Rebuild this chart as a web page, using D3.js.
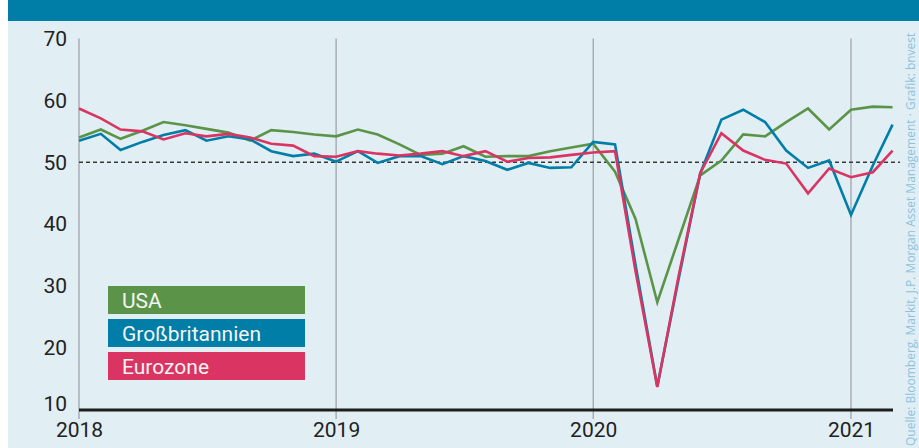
<!DOCTYPE html>
<html>
<head>
<meta charset="utf-8">
<script src="https://cdnjs.cloudflare.com/ajax/libs/d3/7.8.5/d3.min.js"></script>
<style>
  body { margin: 0; background: #fff; }
  svg { display: block; }
</style>
</head>
<body>
<script>
// Einkaufsmanagerindizes (Composite), monatlich Jan 2018 - Mär 2021
var months = [];
for (var i = 0; i < 39; i++) months.push(new Date(2018, i, 1));

var usa = [
  54.0, 55.3, 53.8, 55.1, 56.5, 56.0, 55.4, 54.8, 53.5, 55.2, 54.9, 54.5,
  54.2, 55.3, 54.5, 52.9, 51.2, 51.4, 52.6, 50.9, 51.0, 51.0, 51.8, 52.4,
  53.0, 48.5, 40.9, 27.4, 37.5, 47.9, 50.3, 54.5, 54.2, 56.5, 58.7, 55.3,
  58.5, 59.0, 58.9
];
var uk = [
  53.5, 54.6, 52.0, 53.3, 54.4, 55.2, 53.5, 54.2, 53.7, 51.8, 51.0, 51.4,
  50.1, 51.8, 49.9, 51.0, 51.0, 49.7, 51.0, 50.2, 48.8, 49.9, 49.1, 49.2,
  53.3, 52.9, 33.5, 13.8, 31.0, 48.2, 56.9, 58.5, 56.5, 51.9, 49.1, 50.3,
  41.5, 49.5, 56.1
];
var eurozone = [
  58.7, 57.1, 55.3, 55.0, 53.7, 54.7, 54.2, 54.6, 54.0, 53.0, 52.7, 51.0,
  50.9, 51.8, 51.4, 51.1, 51.4, 51.8, 51.0, 51.8, 50.1, 50.7, 50.8, 51.2,
  51.6, 51.8, 32.5, 13.7, 31.5, 48.3, 54.7, 51.9, 50.4, 49.8, 45.0, 49.0,
  47.6, 48.4, 51.9
];

var seriesNames = ['USA', 'Großbritannien', 'Eurozone'];
var seriesColors = ['#5b9449', '#007ea7', '#d93462'];
var yTicks = [10, 20, 30, 40, 50, 60, 70];
var yearTicks = [new Date(2018, 0, 1), new Date(2019, 0, 1), new Date(2020, 0, 1), new Date(2021, 0, 1)];
var source = 'Quelle: Bloomberg, Markit, J.P. Morgan Asset Management · Grafik: bnvest';

var w = 919;
var h = 448;

var x = d3.scaleTime()
  .domain([new Date(2018, 0, 1), new Date(2021, 0, 1)])
  .range([79, 851]);
var y = d3.scaleLinear()
  .domain([10, 70])
  .range([410, 38.5]);

var svg = d3.select('body')
  .append('svg')
  .attr('width', w)
  .attr('height', h);

svg.append('rect')
  .attr('x', 8)
  .attr('width', w - 8)
  .attr('height', h)
  .attr('fill', '#e1eef4');

svg.append('rect')
  .attr('x', 8)
  .attr('width', w - 8)
  .attr('height', 21)
  .attr('fill', '#007ea7');

// vertikale Jahreslinien
svg.selectAll('line.year')
  .data(yearTicks)
  .enter()
  .append('line')
  .attr('class', 'year')
  .attr('x1', function(d){ return x(d); })
  .attr('x2', function(d){ return x(d); })
  .attr('y1', y(70))
  .attr('y2', y(10) + 9)
  .attr('stroke', '#8a8f93')
  .attr('stroke-width', 1);

// 50er Linie
svg.append('line')
  .attr('x1', x(new Date(2018, 0, 1)))
  .attr('x2', 900)
  .attr('y1', y(50))
  .attr('y2', y(50))
  .attr('stroke', '#3a3a3a')
  .attr('stroke-width', 1.5)
  .attr('stroke-dasharray', '4,3');

var yAxis = d3.axisLeft(y).tickValues(yTicks).tickSize(0).tickPadding(12);
var gy = svg.append('g')
  .attr('transform', 'translate(' + x(new Date(2018, 0, 1)) + ',0)')
  .call(yAxis);
gy.select('.domain').remove();
gy.selectAll('text')
  .style('font-family', 'Roboto, sans-serif')
  .style('font-size', '21px')
  .attr('fill', '#222');
// die 10 sitzt etwas hoeher, damit sie nicht mit 2018 kollidiert
gy.selectAll('.tick')
  .filter(function(d){ return d === 10; })
  .select('text')
  .attr('y', -6);

var xAxis = d3.axisBottom(x).tickValues(yearTicks).tickSize(0).tickPadding(12)
  .tickFormat(d3.timeFormat('%Y'));
var gx = svg.append('g')
  .attr('transform', 'translate(0,' + y(10) + ')')
  .call(xAxis);
gx.select('.domain').remove();
gx.selectAll('text')
  .style('font-family', 'Roboto, sans-serif')
  .style('font-size', '21px')
  .attr('fill', '#222');

var line = d3.line()
  .x(function(d, i){ return x(months[i]); })
  .y(function(d){ return y(d); });

var data = [usa, uk, eurozone];
svg.selectAll('path.series')
  .data(data)
  .enter()
  .append('path')
  .attr('class', 'series')
  .attr('d', line)
  .attr('fill', 'none')
  .attr('stroke', function(d, i){ return seriesColors[i]; })
  .attr('stroke-width', 2.6)
  .attr('stroke-linejoin', 'miter');

// Basislinie
svg.append('line')
  .attr('x1', x(new Date(2018, 0, 1)))
  .attr('x2', 893)
  .attr('y1', y(10))
  .attr('y2', y(10))
  .attr('stroke', '#1e1e1e')
  .attr('stroke-width', 3);

// Legende
var legend = svg.selectAll('g.legend')
  .data(seriesNames)
  .enter()
  .append('g')
  .attr('class', 'legend')
  .attr('transform', function(d, i){ return 'translate(108,' + (286 + i * 33) + ')'; });

legend.append('rect')
  .attr('width', 197)
  .attr('height', 28)
  .attr('fill', function(d, i){ return seriesColors[i]; });

legend.append('text')
  .attr('x', 14)
  .attr('y', 21.5)
  .text(function(d){ return d; })
  .style('font-family', 'Roboto, sans-serif')
  .style('font-size', '21px')
  .style('font-weight', 400)
  .attr('fill', '#f4f4f4');

svg.append('text')
  .attr('transform', 'translate(915,446) rotate(-90)')
  .text(source)
  .style('font-family', '"Open Sans", sans-serif')
  .style('font-size', '12px')
  .attr('fill', '#8cc3db');
</script>
</body>
</html>
